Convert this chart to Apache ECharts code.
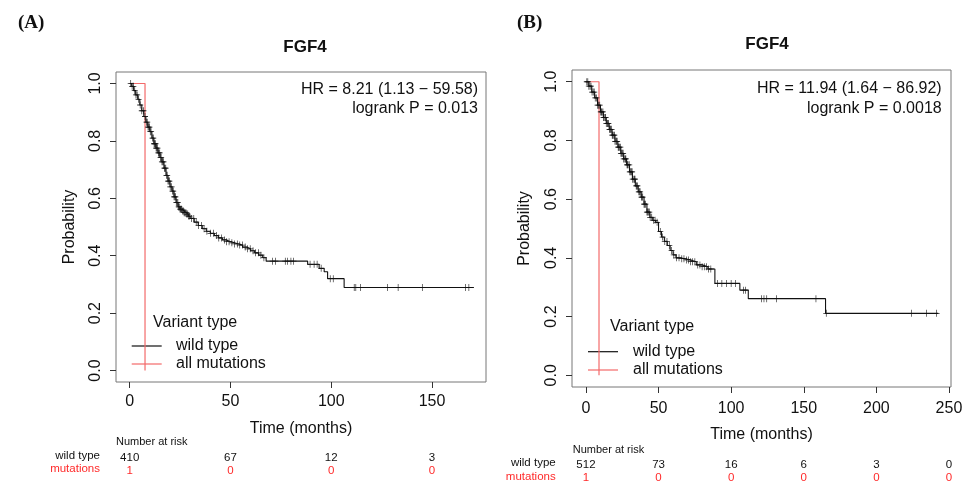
<!DOCTYPE html>
<html><head><meta charset="utf-8">
<script src="https://cdn.jsdelivr.net/npm/echarts@6/dist/echarts.min.js"></script>
<style>html,body{margin:0;padding:0;background:#fff}#c{width:970px;height:481px}</style>
</head><body><div id="c"></div><script>
// ---------- Panel A data ----------
const timeA = [0,1,2,3,4,5,6,7,8,9,10,11,12,13,14,15,16,17,18,19,20,21,22,23,24,25,26,27,28,29,30,32,34,36,38,40,42,44,46,48,50,52,54,56,58,60,62,64,66,67.7,88.3,94,96.5,98.2,106.4,170.8];
const survA = [1,0.99,0.975,0.96,0.945,0.925,0.905,0.885,0.865,0.848,0.832,0.81,0.79,0.775,0.758,0.742,0.727,0.705,0.68,0.66,0.64,0.625,0.605,0.585,0.57,0.562,0.556,0.55,0.545,0.538,0.53,0.517,0.505,0.494,0.485,0.478,0.47,0.462,0.455,0.449,0.445,0.441,0.437,0.43,0.424,0.417,0.41,0.402,0.393,0.381,0.370,0.356,0.344,0.32,0.289,0.289];
const censorA = [0.5,1.2,1.8,2.5,3.1,3.7,4.4,5.2,6,6.8,7.6,8.3,8.7,9.1,9.5,9.8,10.2,10.6,11.3,11.7,12.1,12.4,12.8,13.1,13.4,13.8,14.2,14.5,14.9,15.3,15.6,16,16.4,16.8,17.2,17.5,17.9,18.2,18.6,19,19.4,19.7,20.1,20.8,21.2,21.6,22,22.4,22.7,23.1,23.5,23.9,24.3,24.6,25,25.4,25.8,26.2,26.6,27,27.4,27.9,28.3,28.8,29.2,29.7,30.6,31.8,33,34.2,35.6,36.9,38.3,40.1,41.5,43,44.2,45.6,47,48.1,49.3,50.7,52,53.4,54.6,55.9,57.3,58.5,59.8,61.2,62.5,63.9,65.1,66.6,70.9,72.3,77.2,78.3,80,81.3,89.5,91.5,93,95,99.5,101,111.4,112.2,114.6,127.9,133.2,145.2,166.6,168.3];
const mutTimeA = [0,7.6,7.6];
const mutSurvA = [1,1,0];
const riskTicksA = [0,50,100,150];
const riskWildA = [410,67,12,3];
const riskMutA = [1,0,0,0];

// ---------- Panel B data ----------
const timeB = [0,2,4,6,8,10,12,14,16,18,20,22,24,26,28,30,32,34,36,38,40,42,44,46,48,50,52,54,56,58,60,62,65,68,72,76,80,84,88.8,106,111.8,165,242.6];
const survB = [1,0.985,0.965,0.945,0.92,0.897,0.878,0.858,0.838,0.818,0.797,0.777,0.756,0.737,0.717,0.693,0.668,0.645,0.625,0.607,0.583,0.556,0.538,0.528,0.521,0.49,0.471,0.456,0.442,0.425,0.41,0.4,0.397,0.393,0.387,0.376,0.37,0.362,0.313,0.29,0.261,0.211,0.211];
const censorB = [0.6,1.3,2,2.8,3.5,4.2,5,5.7,6.4,7.2,8,8.7,9.5,10.2,10.6,11,11.7,12.1,12.5,13.2,13.6,14,14.7,15.1,15.5,16.2,16.6,17,17.7,18.1,18.5,19.2,19.6,20,20.7,21.1,21.5,22.2,22.6,23,23.7,24.1,24.5,25.2,25.6,26,26.8,27.1,27.5,28.3,28.7,29,29.8,30.2,30.6,31.4,31.8,32.2,33,33.4,33.8,34.6,35,35.5,36.4,36.8,37.3,38.2,38.6,39.1,40,40.5,41,42,42.5,43,43.6,44.2,45.3,46.5,47.6,49,51.2,52.8,54.3,55.8,57.4,59,60.5,62.3,64.1,66,67.5,69.2,70.6,72,73.5,75,77,78.5,80,81.5,83,84.5,86,90.5,93.6,96.8,100,103,108.5,110,121,122.6,124.5,131.3,158.4,165.5,224.3,234.6,241.5];
const mutTimeB = [0,9.0,9.0];
const mutSurvB = [1,1,0];
const riskTicksB = [0,50,100,150,200,250];
const riskWildB = [512,73,16,6,3,0];
const riskMutB = [1,0,0,0,0,0];

const yTicks = [0,0.2,0.4,0.6,0.8,1];

// ---------- helpers ----------
function survAt(times, surv, t){ let s = surv[0]; for(let i=0;i<times.length;i++){ if(times[i]<=t) s=surv[i]; else break; } return s; }
const pairs = (ts, ss) => ts.map((t,i)=>[t, ss[i]]);
const censorPts = (cs, ts, ss) => cs.map(c=>[c, survAt(ts, ss, c)]);

const FONT = 'Liberation Sans, Arial, sans-serif';
const RED_LINE = '#f36a6a';
const RED_TXT = '#ff2a2a';
const PLUS = 'path://M-0.11,-1 L0.11,-1 L0.11,-0.11 L1,-0.11 L1,0.11 L0.11,0.11 L0.11,1 L-0.11,1 L-0.11,0.11 L-1,0.11 L-1,-0.11 L-0.11,-0.11 Z';

function mainX(grid, min, max, ticks, margin, gap){
  return { type:'value', gridIndex:grid, min:min, max:max, position:'bottom',
    axisLine:{show:false, onZero:false}, splitLine:{show:false},
    axisTick:{show:true, customValues:ticks, length:6, lineStyle:{color:'#333', width:1}},
    axisLabel:{customValues:ticks, fontSize:16, color:'#111', fontFamily:FONT, margin:margin},
    name:'Time (months)', nameLocation:'middle', nameGap:gap, nameMoveOverlap:false,
    nameTextStyle:{fontSize:16, color:'#111', fontFamily:FONT} };
}
function riskX(grid, min, max, ticks, vals, color, offset){
  return { type:'value', gridIndex:grid, min:min, max:max, position:'bottom', offset:offset,
    axisLine:{show:false, onZero:false}, axisTick:{show:false}, splitLine:{show:false},
    axisLabel:{customValues:ticks, fontSize:11.5, color:color, fontFamily:FONT, margin:0,
      formatter:(v)=>{ const i = ticks.indexOf(v); return i>=0 ? String(vals[i]) : ''; }} };
}
function mainY(grid, gap){
  return { type:'value', gridIndex:grid, min:-0.04, max:1.04,
    axisLine:{show:false, onZero:false}, splitLine:{show:false},
    axisTick:{show:true, customValues:yTicks, length:6, lineStyle:{color:'#333', width:1}},
    axisLabel:{customValues:yTicks, rotate:90, fontSize:16, color:'#111', fontFamily:FONT, margin:12,
      formatter:(v)=>v.toFixed(1)},
    name:'Probability', nameLocation:'middle', nameGap:gap, nameRotate:90, nameMoveOverlap:false,
    nameTextStyle:{fontSize:16, color:'#111', fontFamily:FONT} };
}
function kmSeries(xi, yi, ts, ss, cs){
  return [
    { type:'line', xAxisIndex:xi, yAxisIndex:yi, step:'end', showSymbol:false, silent:true,
      data:pairs(ts, ss), lineStyle:{color:'#111', width:1.1}, z:3 },
    { type:'scatter', xAxisIndex:xi, yAxisIndex:yi, symbol:PLUS, symbolSize:[6,7], silent:true,
      data:censorPts(cs, ts, ss), itemStyle:{color:'#111', opacity:0.9}, z:4 }
  ];
}
function mutSeries(xi, yi, ts, ss){
  return { type:'line', xAxisIndex:xi, yAxisIndex:yi, showSymbol:false, silent:true,
    data:pairs(ts, ss), lineStyle:{color:RED_LINE, width:1.2}, z:2 };
}
function txt(x, y, text, opts){
  return { type:'text', x:x, y:y, silent:true, style:Object.assign({ text:text, font:'16px '+FONT, fill:'#111', textAlign:'left', textVerticalAlign:'middle' }, opts||{}) };
}
function seg(x1, y1, x2, y2, color){
  return { type:'line', silent:true, shape:{x1:x1,y1:y1,x2:x2,y2:y2}, style:{stroke:color, lineWidth:1.2} };
}

const chart = echarts.init(document.getElementById('c'), null, {renderer:'canvas'});
chart.setOption({
  animation:false,
  backgroundColor:'#fff',
  title:[
    { text:'FGF4', left:300, top:34, textAlign:'center', textStyle:{fontSize:17, fontWeight:'bold', color:'#111', fontFamily:FONT} },
    { text:'FGF4', left:762, top:31, textAlign:'center', textStyle:{fontSize:17, fontWeight:'bold', color:'#111', fontFamily:FONT} }
  ],
  grid:[
    { left:116, top:72, width:370, height:310, show:true, borderColor:'#777', borderWidth:1, backgroundColor:'transparent', outerBoundsMode:'none', containLabel:false },
    { left:572, top:70, width:379, height:317, show:true, borderColor:'#777', borderWidth:1, backgroundColor:'transparent', outerBoundsMode:'none', containLabel:false }
  ],
  xAxis:[
    mainX(0, -6.8, 176.8, riskTicksA, 12, 39),
    riskX(0, -6.8, 176.8, riskTicksA, riskWildA, '#111', 69.5),
    riskX(0, -6.8, 176.8, riskTicksA, riskMutA, RED_TXT, 83),
    mainX(1, -9.6, 251.4, riskTicksB, 13.5, 40),
    riskX(1, -9.6, 251.4, riskTicksB, riskWildB, '#111', 72),
    riskX(1, -9.6, 251.4, riskTicksB, riskMutB, RED_TXT, 85.3)
  ],
  yAxis:[ mainY(0, 38), mainY(1, 39) ],
  series:[
    mutSeries(0, 0, mutTimeA, mutSurvA),
    ...kmSeries(0, 0, timeA, survA, censorA),
    mutSeries(3, 1, mutTimeB, mutSurvB),
    ...kmSeries(3, 1, timeB, survB, censorB)
  ],
  graphic:[
    txt(18, 23, '(A)', {font:'bold 19px Liberation Serif, Times New Roman, serif'}),
    txt(517, 23, '(B)', {font:'bold 19px Liberation Serif, Times New Roman, serif'}),
    // panel A annotations
    txt(478, 90, 'HR = 8.21 (1.13 \u2212 59.58)', {textAlign:'right'}),
    txt(478, 109, 'logrank P = 0.013', {textAlign:'right'}),
    txt(153, 323, 'Variant type'),
    seg(131.7, 346, 161.7, 346, '#111'),
    seg(131.7, 364, 161.7, 364, RED_LINE),
    txt(176, 346, 'wild type'),
    txt(176, 364, 'all mutations'),
    txt(116, 441.7, 'Number at risk', {font:'11px '+FONT}),
    txt(100, 455.7, 'wild type', {font:'11.5px '+FONT, textAlign:'right'}),
    txt(100, 469, 'mutations', {font:'11.5px '+FONT, textAlign:'right', fill:RED_TXT}),
    // panel B annotations
    txt(941.7, 88.3, 'HR = 11.94 (1.64 \u2212 86.92)', {textAlign:'right'}),
    txt(941.7, 108.3, 'logrank P = 0.0018', {textAlign:'right'}),
    txt(610, 326.7, 'Variant type'),
    seg(588, 351.7, 618, 351.7, '#111'),
    seg(588, 370, 618, 370, RED_LINE),
    txt(633, 351.7, 'wild type'),
    txt(633, 370, 'all mutations'),
    txt(572.7, 450, 'Number at risk', {font:'11px '+FONT}),
    txt(555.7, 463.3, 'wild type', {font:'11.5px '+FONT, textAlign:'right'}),
    txt(555.7, 476.7, 'mutations', {font:'11.5px '+FONT, textAlign:'right', fill:RED_TXT})
  ]
});
</script></body></html>
